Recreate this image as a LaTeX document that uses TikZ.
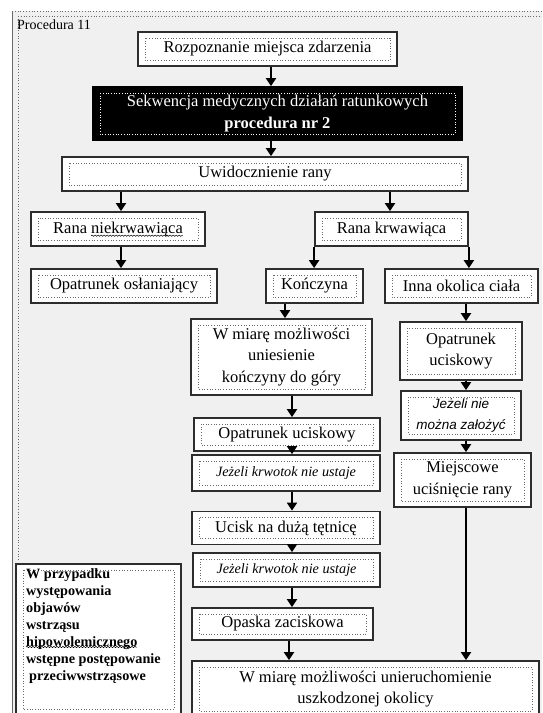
\documentclass[tikz,border=0pt]{standalone}
\usepackage{fontspec}
\setmainfont{Liberation Serif}
\newfontfamily\arialfont{Liberation Sans}
\usetikzlibrary{arrows.meta,decorations.pathmorphing}

\definecolor{pagebg}{RGB}{240,240,240}
\definecolor{boxline}{RGB}{45,45,45}
\definecolor{dotline}{RGB}{105,105,105}

\newcommand\mainsize{\fontsize{16.5}{21.5}\selectfont}
\newcommand\notesize{\fontsize{14.2}{20}\selectfont}
\newcommand\shocksize{\fontsize{14.2}{17}\selectfont}

\tikzset{
  box/.style={draw=boxline, line width=1.8pt, fill=white, inner sep=0pt,
    align=center, font=\mainsize,
    path picture={\draw[#1, dotted, line width=0.7pt]
      ([xshift=7pt,yshift=-6pt]path picture bounding box.north west) rectangle
      ([xshift=-7pt,yshift=6pt]path picture bounding box.south east);}},
  box/.default=dotline,
  flow/.style={line width=2.4pt, -{Triangle[width=10pt,length=8pt]}},
  wavy/.style={line width=0.5pt, decorate, decoration={snake, amplitude=0.7pt, segment length=3pt}},
}

\begin{document}
\begin{tikzpicture}[x=1pt,y=-1pt]
\useasboundingbox (0,0) rectangle (542,713);
\clip (0,0) rectangle (542,713);
\fill[white] (0,0) rectangle (542,713);
\fill[pagebg] (12,11) rectangle (542,713);

% frame of the procedure sheet
\draw[dotline, dotted, line width=0.8pt] (12,11.5) -- (542,11.5);
\draw[dotline, dotted, line width=0.8pt] (18,16) -- (542,16);
\draw[dotline, line width=1pt] (12.5,11.5) -- (12.5,713);
\draw[dotline, dotted, line width=0.8pt] (18,16) -- (18,560);
\node[anchor=west, inner sep=0pt, font=\fontsize{14}{16}\selectfont] (title) at (17,25) {Procedura 11};

% main sequence
\node[box, minimum width=259, minimum height=34] (roz) at (267.5,49) {Rozpoznanie miejsca zdarzenia};
\node[box=white, fill=black, draw=black, text=white, minimum width=369, minimum height=53] (seq) at (277.5,113.5)
  {Sekwencja medycznych działań ratunkowych\\\textbf{procedura nr 2}};
\node[box, minimum width=406, minimum height=34] (uwi) at (265,174) {Uwidocznienie rany};

% first split
\node[box, minimum width=174, minimum height=34] (niek) at (118,229) {Rana niekrwawiąca};
\draw[wavy] ([xshift=-26.8pt,yshift=-2.6pt]niek.base) -- ([xshift=64.8pt,yshift=-2.6pt]niek.base);
\node[box, minimum width=153, minimum height=34] (krw) at (391.5,229) {Rana krwawiąca};
\node[box, minimum width=186, minimum height=34] (osl) at (124,286) {Opatrunek osłaniający};
\node[box, minimum width=97, minimum height=34] (kon) at (314.5,286) {Kończyna};
\node[box, minimum width=153, minimum height=34] (inna) at (461.5,286) {Inna okolica ciała};

% limb branch
\node[box, minimum width=181, minimum height=76] (unies) at (281.5,357) {W miarę możliwości\\uniesienie\\kończyny do góry};
\node[box, minimum width=186, minimum height=33] (opL) at (287,434.5) {Opatrunek uciskowy};
\node[box, font=\notesize\itshape, minimum width=188, minimum height=36] (jk1) at (286,473) {Jeżeli krwotok nie ustaje};
\node[box, minimum width=188, minimum height=33] (ucisk) at (286,528) {Ucisk na dużą tętnicę};
\node[box, font=\notesize\itshape, minimum width=187, minimum height=34] (jk2) at (286.5,570) {Jeżeli krwotok nie ustaje};
\node[box, minimum width=181, minimum height=32] (opaska) at (282.5,624) {Opaska zaciskowa};

% other body region branch
\node[box, minimum width=122, minimum height=58] (opR) at (461,351) {Opatrunek\\uciskowy};
\node[box, font=\arialfont\itshape\fontsize{13.5}{21}\selectfont, minimum width=120, minimum height=49] (jez1) at (461,415.5) {Jeżeli nie\\można założyć};
\node[box, minimum width=137, minimum height=54] (miej) at (462.5,480) {Miejscowe\\uciśnięcie rany};

% common end
\node[box, minimum width=347, minimum height=56] (final) at (365.5,689) {W miarę możliwości unieruchomienie\\uszkodzonej okolicy};

% shock note
\node[box, anchor=north west, minimum width=165, minimum height=151] (shock) at (15,563) {};
\node[anchor=north west, align=left, inner sep=0pt, font=\shocksize\bfseries] (shocktxt) at (26,568)
  {W przypadku\\występowania\\objawów\\wstrząsu\\hipowolemicznego\\wstępne postępowanie\\\hspace{3pt}przeciwwstrząsowe};
\draw[wavy] ([yshift=-79pt]shocktxt.north west) -- ([xshift=111pt,yshift=-79pt]shocktxt.north west);

% connector columns
\coordinate (xa) at (271,0);
\coordinate (xb) at (121,0);
\coordinate (xc) at (390,0);
\coordinate (xd) at (285,0);
\coordinate (xe) at (292,0);
\coordinate (xf) at (289,0);
\coordinate (xg) at (466,0);

\draw[flow] (roz.south -| xa) -- (seq.north -| xa);
\draw[flow] (seq.south -| xa) -- (uwi.north -| xa);
\draw[flow] (uwi.south -| xb) -- (niek.north -| xb);
\draw[flow] (niek.south -| xb) -- (osl.north -| xb);
\draw[flow] (uwi.south -| xc) -- (krw.north -| xc);
\draw[flow] (krw.south west) -- (krw.south west |- kon.north);
\draw[flow] (krw.south east) -- (krw.south east |- inna.north);

\draw[flow] (kon.south -| xd) -- (unies.north -| xd);
\draw[flow] (unies.south -| xe) -- (opL.north -| xe);
\draw[flow] (opL.south -| xe) -- (jk1.north -| xe);
\draw[flow] (jk1.south -| xe) -- (ucisk.north -| xe);
\draw[flow] (ucisk.south -| xe) -- (jk2.north -| xe);
\draw[flow] (jk2.south -| xe) -- (opaska.north -| xe);
\draw[flow] (opaska.south -| xf) -- (final.north -| xf);

\draw[flow] (inna.south -| xg) -- (opR.north -| xg);
\draw[flow] (opR.south -| xg) -- (jez1.north -| xg);
\draw[flow] (jez1.south -| xg) -- (miej.north -| xg);
\draw[flow] (miej.south -| xg) -- (final.north -| xg);
\end{tikzpicture}
\end{document}
